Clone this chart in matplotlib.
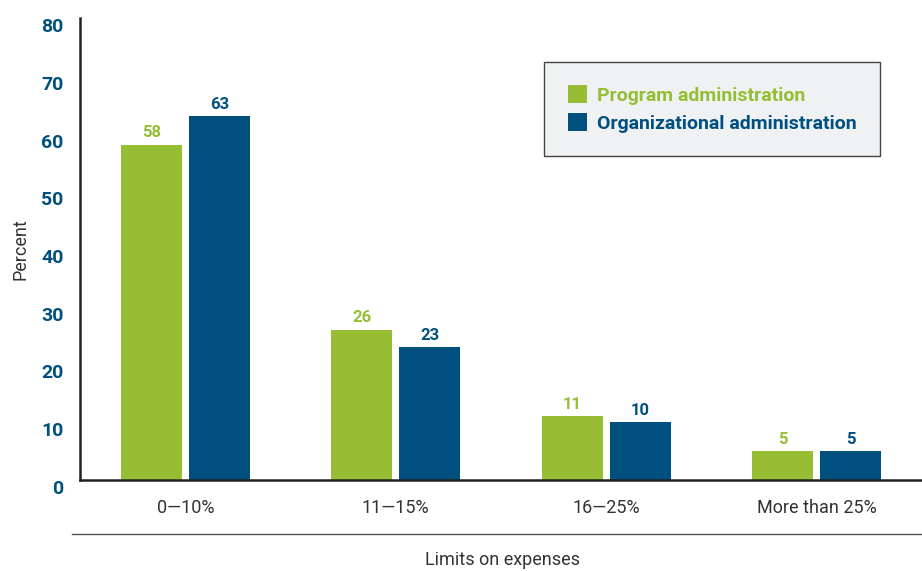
import matplotlib
matplotlib.use("Agg")
import matplotlib.pyplot as plt
import matplotlib.transforms as mtransforms
import numpy as np

# Data
categories = ["0\u201410%", "11\u201415%", "16\u201425%", "More than 25%"]
program_admin = [58, 26, 11, 5]
org_admin = [63, 23, 10, 5]
series_names = ["Program administration", "Organizational administration"]
y_ticks = [0, 10, 20, 30, 40, 50, 60, 70, 80]

GREEN = "#97BD35"
BLUE = "#00507F"

plt.rcParams["font.family"] = ["Roboto", "DejaVu Sans"]

fig = plt.figure(figsize=(9.22, 5.71), dpi=100)
ax = fig.add_axes([80 / 922, 91 / 571, 842 / 922, 462 / 571])

x = np.arange(len(categories))
width = 0.29
offset = 0.162

b1 = ax.bar(x - offset, program_admin, width, color=GREEN, label=series_names[0])
b2 = ax.bar(x + offset, org_admin, width, color=BLUE, label=series_names[1])

for bars, vals, col in [(b1, program_admin, GREEN), (b2, org_admin, BLUE)]:
    for bar, v in zip(bars, vals):
        ax.text(bar.get_x() + bar.get_width() / 2, v + 0.8, str(v),
                ha="center", va="bottom", fontsize=12, fontweight="bold", color=col)

ax.set_xlim(-0.5, 3.5)
ax.set_ylim(0, 80)
ax.set_yticks(y_ticks)
ax.set_yticklabels([str(t) for t in y_ticks], fontsize=14, fontweight="bold", color=BLUE)
ax.set_xticks(x)
ax.set_xticklabels(categories, fontsize=13, color="#333333")
ax.tick_params(axis="both", length=0)
ax.tick_params(axis="y", pad=12)
ax.tick_params(axis="x", pad=14)

# shift y tick labels down a little, as in the reference
shift = mtransforms.ScaledTranslation(0, -7 / 100, fig.dpi_scale_trans)
for lab in ax.get_yticklabels():
    lab.set_transform(lab.get_transform() + shift)

for side in ["top", "right"]:
    ax.spines[side].set_visible(False)
ax.spines["left"].set_color("#222222")
ax.spines["bottom"].set_color("#222222")
ax.spines["left"].set_linewidth(1.8)
ax.spines["bottom"].set_linewidth(1.8)

ax.set_ylabel("Percent", fontsize=13, color="#333333", labelpad=8)

# separator line and x label below the tick labels
fig.add_artist(plt.Line2D([72 / 922, 1.0], [1 - 534 / 571, 1 - 534 / 571],
                          color="#555555", linewidth=1))
fig.text(502 / 922, 1 - 560 / 571, "Limits on expenses", ha="center", va="center",
         fontsize=13, color="#333333")

leg = ax.legend(loc="upper right", bbox_to_anchor=(0.950, 0.905), borderaxespad=0,
                frameon=True, fancybox=False, handlelength=1.0, handleheight=1.0,
                handletextpad=0.5, borderpad=1.2, labelspacing=0.45,
                prop={"weight": "bold", "size": 14})
leg.get_frame().set_facecolor("#F0F1F3")
leg.get_frame().set_edgecolor("#444444")
leg.get_frame().set_linewidth(1.0)
leg.get_frame().set_alpha(1)
for txt, col in zip(leg.get_texts(), [GREEN, BLUE]):
    txt.set_color(col)

fig.savefig("out.png", dpi=100)
